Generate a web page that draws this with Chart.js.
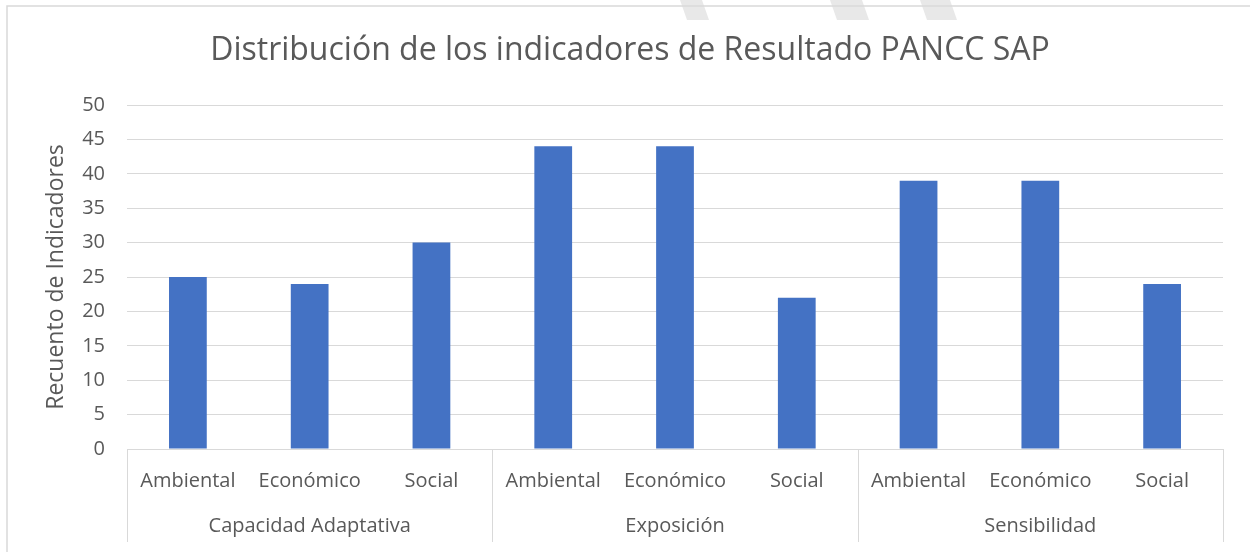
<!DOCTYPE html>
<html>
<head>
<meta charset="utf-8">
<script src="https://cdn.jsdelivr.net/npm/chart.js@4"></script>
<style>
  html, body { margin: 0; padding: 0; background: #fff; }
  #wrap { width: 1250px; height: 552px; }
</style>
</head>
<body>
<div id="wrap"><canvas id="chartIndicadores"></canvas></div>
<script>
// Datos
const grupos = ['Capacidad Adaptativa', 'Exposición', 'Sensibilidad'];
const subcategorias = ['Ambiental', 'Económico', 'Social'];
const recuento = [25, 24, 30, 44, 44, 22, 39, 39, 24];
const yTicks = [0, 5, 10, 15, 20, 25, 30, 35, 40, 45, 50];

const etiquetas = [];
grupos.forEach(g => subcategorias.forEach(s => etiquetas.push(g + '|' + s)));

const textColor = '#595959';
const gridColor = '#d9d9d9';
const fontFamily = '"Open Sans", "Noto Sans", sans-serif';

// Marco, marca de agua, etiquetas de grupo y separadores
const decorPlugin = {
    id: 'decor',
    beforeDraw(chart) {
        const ctx = chart.ctx;
        ctx.save();
        ctx.fillStyle = '#fff';
        ctx.fillRect(0, 0, chart.width, chart.height);
        // marca de agua (trazos grises)
        ctx.fillStyle = '#e8e8e8';
        [[680, 702], [830, 862], [920, 950]].forEach(([a, b]) => {
            ctx.beginPath();
            ctx.moveTo(a, 0);
            ctx.lineTo(b, 0);
            ctx.lineTo(b + 7, 20);
            ctx.lineTo(a + 7, 20);
            ctx.closePath();
            ctx.fill();
        });
        // borde del gráfico
        ctx.strokeStyle = gridColor;
        ctx.lineWidth = 1.5;
        ctx.beginPath();
        ctx.moveTo(7, chart.height);
        ctx.lineTo(7, 6);
        ctx.lineTo(chart.width, 6);
        ctx.stroke();
        ctx.restore();
    },
    afterDraw(chart) {
        const ctx = chart.ctx;
        const x = chart.scales.x;
        const n = etiquetas.length;
        const step = (x.right - x.left) / n;
        ctx.save();
        ctx.strokeStyle = gridColor;
        ctx.lineWidth = 1;
        ctx.beginPath();
        for (let g = 0; g <= grupos.length; g++) {
            const px = Math.round(x.left + g * subcategorias.length * step) + 0.5;
            ctx.moveTo(px, x.top);
            ctx.lineTo(px, 542);
        }
        ctx.stroke();
        ctx.fillStyle = textColor;
        ctx.font = '20px ' + fontFamily;
        ctx.textAlign = 'center';
        ctx.textBaseline = 'middle';
        grupos.forEach((g, i) => {
            const i0 = i * subcategorias.length;
            const i1 = i0 + subcategorias.length - 1;
            const cx = (x.getPixelForValue(i0) + x.getPixelForValue(i1)) / 2;
            ctx.fillText(g, cx, 526);
        });
        ctx.restore();
    }
};

const chart = new Chart(
    document.getElementById('chartIndicadores'), {
        type: 'bar',
        data: {
            labels: etiquetas,
            datasets: [{
                data: recuento,
                backgroundColor: '#4472C4',
                borderWidth: 0,
                barPercentage: 0.31,
                categoryPercentage: 1
            }]
        },
        options: {
            responsive: true,
            maintainAspectRatio: false,
            animation: false,
            layout: {
                padding: { left: 37, right: 27, top: 0, bottom: 0 }
            },
            plugins: {
                legend: { display: false },
                tooltip: { enabled: false },
                title: {
                    display: true,
                    text: 'Distribución de los indicadores de Resultado PANCC SAP',
                    color: textColor,
                    font: { family: fontFamily, size: 32, weight: 'normal' },
                    padding: { top: 32, bottom: 34.6 }
                }
            },
            scales: {
                x: {
                    grid: { display: false, drawTicks: false },
                    border: { display: true, color: gridColor, width: 1 },
                    ticks: {
                        color: textColor,
                        font: { family: fontFamily, size: 20 },
                        padding: 20,
                        maxRotation: 0,
                        autoSkip: false,
                        callback: (v, i) => etiquetas[i].split('|')[1]
                    },
                    afterFit: s => { s.height = 103; }
                },
                y: {
                    min: 0,
                    max: 50,
                    afterBuildTicks: s => { s.ticks = yTicks.map(v => ({ value: v })); },
                    grid: { color: gridColor, lineWidth: 1, drawTicks: false },
                    border: { display: false },
                    ticks: {
                        color: textColor,
                        font: { family: fontFamily, size: 20 },
                        padding: 22
                    },
                    title: {
                        display: true,
                        text: 'Recuento de Indicadores',
                        color: textColor,
                        font: { family: fontFamily, size: 23 },
                        padding: { top: 6 }
                    },
                    afterFit: s => { s.width = 90; }
                }
            }
        },
        plugins: [decorPlugin]
    }
)
</script>
</body>
</html>
